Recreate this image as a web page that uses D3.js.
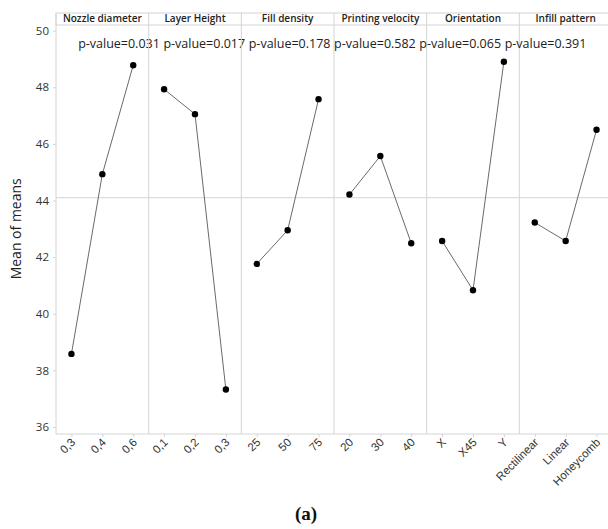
<!DOCTYPE html>
<html>
<head>
<meta charset="utf-8">
<script src="https://cdn.jsdelivr.net/npm/d3@7"></script>
<style>
  body { margin: 0; background: #fff; overflow: hidden; }
  svg { font-family: "Open Sans", "Noto Sans", sans-serif; }
</style>
</head>
<body>
<svg id="chart" width="608" height="529"></svg>
<script>
// factor names shown in the header strip
const factors = ['Nozzle diameter', 'Layer Height', 'Fill density', 'Printing velocity', 'Orientation', 'Infill pattern'];
// level labels for each factor
const levels = [
  ['0,3', '0,4', '0,6'],
  ['0,1', '0,2', '0,3'],
  ['25', '50', '75'],
  ['20', '30', '40'],
  ['X', 'X45', 'Y'],
  ['Rectilinear', 'Linear', 'Honeycomb']
];
// mean of means at each level
const means = [
  [38.58, 44.93, 48.78],
  [47.93, 47.05, 37.32],
  [41.76, 42.95, 47.58],
  [44.21, 45.57, 42.49],
  [42.57, 40.83, 48.9],
  [43.22, 42.57, 46.5]
];
const pValues = ['0.031', '0.017', '0.178', '0.582', '0.065', '0.391'];
const grandMean = 44.1;
const yTicks = [36, 38, 40, 42, 44, 46, 48, 50];

const margin = { left: 56, right: -4, top: 25, bottom: 95 };
const width = 608, height = 529;
const headerH = 12;
const svg = d3.select('#chart');

const x0 = margin.left, x1 = width - margin.right;
const yBottom = height - margin.bottom;

const panelScale = d3.scaleBand()
  .domain(d3.range(factors.length))
  .range([x0, x1])
  .padding(0);

const yScale = d3.scaleLinear()
  .domain([35.75, 50.2])
  .range([yBottom, margin.top]);

const gridColor = '#d4d4d4';

// header strip
svg.append('rect')
  .attr('x', x0).attr('y', margin.top - headerH)
  .attr('width', x1 - x0).attr('height', headerH)
  .attr('fill', '#fff').attr('stroke', gridColor);

// grand mean reference line
svg.append('line')
  .attr('x1', x0).attr('x2', x1)
  .attr('y1', yScale(grandMean)).attr('y2', yScale(grandMean))
  .attr('stroke', '#dcdcdc').attr('stroke-width', 1.2);

// left axis line + bottom line
svg.append('line')
  .attr('x1', x0).attr('x2', x0)
  .attr('y1', margin.top - headerH).attr('y2', yBottom)
  .attr('stroke', gridColor);
svg.append('line')
  .attr('x1', x0).attr('x2', x1)
  .attr('y1', yBottom).attr('y2', yBottom)
  .attr('stroke', gridColor);

// y axis
const yAxis = svg.append('g')
  .attr('transform', `translate(${x0},0)`)
  .call(d3.axisLeft(yScale).tickValues(yTicks).tickSize(3).tickPadding(4));
yAxis.select('.domain').remove();
yAxis.selectAll('line').attr('stroke', gridColor);
yAxis.selectAll('text')
  .attr('font-size', 11.5)
  .attr('fill', '#333')
  .style('font-family', '"Open Sans", sans-serif');

svg.append('text')
  .attr('transform', `translate(21,${yScale(43)}) rotate(-90)`)
  .attr('text-anchor', 'middle')
  .attr('font-size', 14)
  .attr('fill', '#222')
  .text('Mean of means');

const line = d3.line();

factors.forEach((name, i) => {
  const px = panelScale(i);
  const pw = panelScale.bandwidth();

  if (i > 0) {
    svg.append('line')
      .attr('x1', px).attr('x2', px)
      .attr('y1', margin.top - headerH).attr('y2', yBottom)
      .attr('stroke', gridColor);
  }

  svg.append('text')
    .attr('x', px + pw / 2)
    .attr('y', margin.top - 3)
    .attr('text-anchor', 'middle')
    .attr('font-size', 10)
    .attr('font-weight', 600)
    .attr('fill', '#222')
    .text(name);

  const xScale = d3.scalePoint()
    .domain(levels[i])
    .range([px, px + pw])
    .padding(0.5);

  const pts = levels[i].map((l, j) => [xScale(l), yScale(means[i][j])]);

  svg.append('path')
    .attr('d', line(pts))
    .attr('fill', 'none')
    .attr('stroke', '#6a6a6a')
    .attr('stroke-width', 1);

  svg.selectAll(null)
    .data(pts)
    .join('circle')
    .attr('cx', d => d[0])
    .attr('cy', d => d[1])
    .attr('r', 3.2)
    .attr('fill', '#000');

  // x ticks + rotated labels
  const xAxis = svg.append('g')
    .attr('transform', `translate(0,${yBottom})`)
    .call(d3.axisBottom(xScale).tickSize(3).tickPadding(3));
  xAxis.select('.domain').remove();
  xAxis.selectAll('line').attr('stroke', gridColor);
  xAxis.selectAll('text')
    .attr('font-size', 11.5)
    .attr('fill', '#333')
    .attr('text-anchor', 'end')
    .attr('dy', 0)
    .attr('transform', 'translate(4,9) rotate(-45)')
    .attr('y', 0)
    .attr('x', 0);

  // p-value labels
  svg.append('text')
    .attr('x', 119 + i * 85.3)
    .attr('y', 48)
    .attr('text-anchor', 'middle')
    .attr('font-size', 12.5)
    .attr('fill', '#222')
    .text(`p-value=${pValues[i]}`);
});

svg.append('text')
  .attr('x', 306)
  .attr('y', 520)
  .attr('text-anchor', 'middle')
  .style('font-family', '"Liberation Serif", "DejaVu Serif", serif')
  .style('font-weight', 'bold')
  .style('font-size', '19px')
  .attr('fill', '#111')
  .text('(a)');
</script>
</body>
</html>
